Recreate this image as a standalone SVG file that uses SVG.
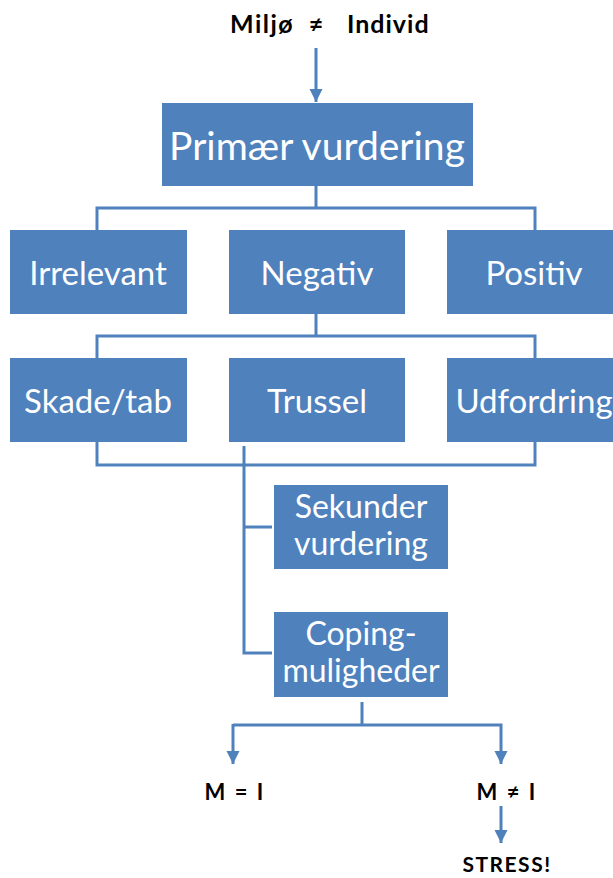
<svg xmlns="http://www.w3.org/2000/svg" width="613" height="878" viewBox="0 0 613 878">
  <style>
    .box { fill: #4F81BD; }
    .lbl { font-family: Lato, "Open Sans", sans-serif; fill: #FFFFFF; text-anchor: middle; }
    .big { font-size: 39px; }
    .mid { font-size: 33px; }
    .sub { font-size: 32px; }
    .note { font-family: Lato, "Liberation Sans", sans-serif; font-weight: bold; fill: #000000; }
    .wire { fill: none; stroke: #4F81BD; stroke-width: 3; }
  </style>
  <defs>
    <marker id="head" viewBox="0 0 10 10" refX="10" refY="5" markerWidth="4.5" markerHeight="4.5" orient="auto" markerUnits="strokeWidth">
      <path d="M0,0 L10,5 L0,10 Z" fill="#4F81BD"/>
    </marker>
  </defs>
  <rect width="613" height="878" fill="#FFFFFF"/>

  <!-- connectors -->
  <g id="connectors">
    <line class="wire" x1="316" y1="48" x2="316" y2="102" marker-end="url(#head)"/>
    <path class="wire" d="M316,186 V208 M97,230 V208 H535 V230"/>
    <path class="wire" d="M316,314 V336 M97,358 V336 H535 V358"/>
    <path class="wire" d="M97,442 V465 H535 V442"/>
    <path class="wire" d="M244,446 V653 H272 M244,527 H272"/>
    <path class="wire" d="M362,702 V725"/>
    <path class="wire" d="M233,725 H501 V764" marker-end="url(#head)"/>
    <line class="wire" x1="233" y1="724" x2="233" y2="764" marker-end="url(#head)"/>
    <line class="wire" x1="501" y1="806" x2="501" y2="843" marker-end="url(#head)"/>
  </g>

  <!-- heading above the first box -->
  <g id="top-label">
    <text class="note" x="230" y="33" font-size="25" letter-spacing="1.5">Miljø</text>
    <text class="note" x="316" y="33" font-size="25" text-anchor="middle">≠</text>
    <text class="note" x="347" y="33" font-size="25" letter-spacing="1">Individ</text>
  </g>

  <g id="primaer">
    <rect class="box" x="162" y="103" width="311" height="83"/>
    <text class="lbl big" x="317" y="160">Primær vurdering</text>
  </g>

  <g id="irrelevant">
    <rect class="box" x="10" y="230" width="177" height="84"/>
    <text class="lbl mid" x="98" y="285">Irrelevant</text>
  </g>
  <g id="negativ">
    <rect class="box" x="229" y="230" width="176" height="84"/>
    <text class="lbl mid" x="317" y="285">Negativ</text>
  </g>
  <g id="positiv">
    <rect class="box" x="447" y="230" width="177" height="84"/>
    <text class="lbl mid" x="534" y="285">Positiv</text>
  </g>

  <g id="skade">
    <rect class="box" x="10" y="358" width="177" height="84"/>
    <text class="lbl mid" x="98" y="413">Skade/tab</text>
  </g>
  <g id="trussel">
    <rect class="box" x="229" y="358" width="176" height="84"/>
    <text class="lbl mid" x="317" y="413">Trussel</text>
  </g>
  <g id="udfordring">
    <rect class="box" x="447" y="358" width="177" height="84"/>
    <text class="lbl mid" x="534" y="413">Udfordring</text>
  </g>

  <g id="sekunder">
    <rect class="box" x="274" y="485" width="174" height="84"/>
    <text class="lbl sub" x="361" y="518">Sekunder</text>
    <text class="lbl sub" x="361" y="555">vurdering</text>
  </g>
  <g id="coping">
    <rect class="box" x="274" y="612" width="174" height="85"/>
    <text class="lbl sub" x="361" y="645">Coping-</text>
    <text class="lbl sub" x="361" y="682">muligheder</text>
  </g>

  <g id="m-eq-i">
    <text class="note" x="235" y="800" font-size="22" text-anchor="middle" letter-spacing="2">M = I</text>
  </g>
  <g id="m-neq-i">
    <text class="note" x="507" y="800" font-size="22" text-anchor="middle" letter-spacing="2">M ≠ I</text>
  </g>
  <g id="stress">
    <text class="note" x="507" y="872" font-size="21" text-anchor="middle" letter-spacing="1.5">STRESS!</text>
  </g>
</svg>
